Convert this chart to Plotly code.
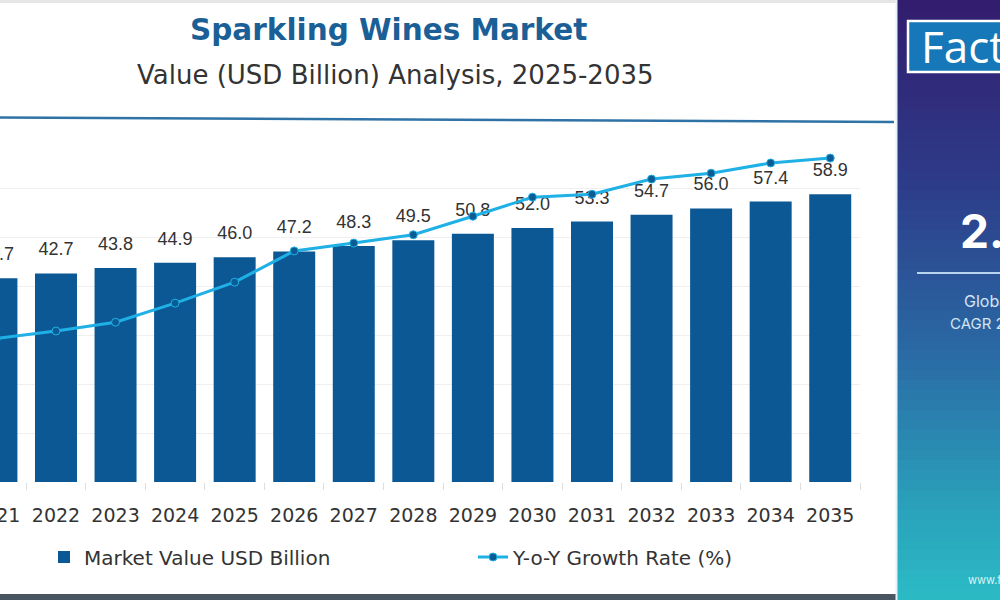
import plotly.graph_objects as go

# ---------------- data ----------------
years = [2021, 2022, 2023, 2024, 2025, 2026, 2027, 2028, 2029, 2030, 2031, 2032, 2033, 2034, 2035]
market_value = [41.7, 42.7, 43.8, 44.9, 46.0, 47.2, 48.3, 49.5, 50.8, 52.0, 53.3, 54.7, 56.0, 57.4, 58.9]
growth_rate = [2.94, 3.09, 3.27, 3.66, 4.09, 4.73, 4.89, 5.06, 5.44, 5.83, 5.89, 6.20, 6.32, 6.53, 6.63]
value_labels = [f"{v:.1f}" for v in market_value]
tick_labels = [str(y) for y in years]

title_text = "Sparkling Wines Market"
subtitle_text = "Value (USD Billion) Analysis, 2025-2035"
legend_bar = "Market Value USD Billion"
legend_line = "Y-o-Y Growth Rate (%)"

# ---------------- layout geometry ----------------
W, H = 1000, 600
ML, MR, MT, MB = 0, 140, 140, 118
PW = W - ML - MR
PH = H - MT - MB
X_RANGE = [2021.06, 2035.5]
Y_RANGE = [0, 70]
Y2_RANGE = [0, 7]


def px(xp):
    return (xp - ML) / PW


def py(yp):
    return (H - MB - yp) / PH


BAR_COLOR = "#0b5894"
LINE_COLOR = "#1fb0e6"
TEXT = "#333333"
UI_FONT = "'DejaVu Sans', Inter, sans-serif"
NUM_FONT = "'Liberation Sans', Arial, sans-serif"

fig = go.Figure()

fig.add_trace(go.Bar(
    x=years, y=market_value, width=0.705,
    marker=dict(color=BAR_COLOR, line=dict(width=0)),
    name=legend_bar, hoverinfo="skip",
))

# value labels above bars
fig.add_trace(go.Scatter(
    x=years, y=market_value, mode="markers+text",
    text=value_labels, textposition="top center",
    textfont=dict(family=NUM_FONT, size=18, color=TEXT),
    marker=dict(size=20, opacity=0),
    showlegend=False, hoverinfo="skip", cliponaxis=True,
))

fig.add_trace(go.Scatter(
    x=years, y=growth_rate, yaxis="y2", mode="lines+markers",
    line=dict(color=LINE_COLOR, width=3),
    marker=dict(color="#0b5c94", size=8, line=dict(color=LINE_COLOR, width=1)),
    name=legend_line, hoverinfo="skip", cliponaxis=True,
))

shapes = []
# top light strip and bottom dark strip
shapes.append(dict(type="rect", xref="paper", yref="paper", x0=px(0), x1=px(896), y0=py(0), y1=py(3),
                   fillcolor="#e6e6e6", line=dict(width=0), layer="above"))
shapes.append(dict(type="rect", xref="paper", yref="paper", x0=px(0), x1=px(896), y0=py(594), y1=py(600),
                   fillcolor="#4a5562", line=dict(width=0), layer="above"))
# separator line under title
shapes.append(dict(type="line", xref="paper", yref="paper", x0=px(0), x1=px(894), y0=py(117.5), y1=py(122),
                   line=dict(color="#2f72a6", width=2.5), layer="above"))

# right panel gradient (vertical strips)
stops = [(0.0, (0x33, 0x1c, 0x6e)), (0.3, (0x2d, 0x3b, 0x88)), (0.6, (0x2a, 0x6c, 0xa6)),
         (0.85, (0x2a, 0xa2, 0xbb)), (1.0, (0x2b, 0xbb, 0xc5))]


def grad(t):
    for (t0, c0), (t1, c1) in zip(stops[:-1], stops[1:]):
        if t0 <= t <= t1:
            f = (t - t0) / (t1 - t0)
            return "rgb(%d,%d,%d)" % tuple(round(a + (b - a) * f) for a, b in zip(c0, c1))
    return "rgb(%d,%d,%d)" % stops[-1][1]


N = 60
for i in range(N):
    y0 = H * i / N
    y1 = H * (i + 1) / N + 0.6
    shapes.append(dict(type="rect", xref="paper", yref="paper", x0=px(896), x1=px(1000),
                       y0=py(y0), y1=py(y1), fillcolor=grad((i + 0.5) / N),
                       line=dict(width=0), layer="above"))
shapes.append(dict(type="line", xref="paper", yref="paper", x0=px(896.5), x1=px(896.5), y0=py(0), y1=py(600),
                   line=dict(color="#e4f1f8", width=2), layer="above"))
# logo box
shapes.append(dict(type="rect", xref="paper", yref="paper", x0=px(908), x1=px(1004), y0=py(21), y1=py(72),
                   fillcolor="#1678b8", line=dict(color="#ffffff", width=2.5), layer="above"))
# white divider in panel
shapes.append(dict(type="line", xref="paper", yref="paper", x0=px(917), x1=px(1000), y0=py(273), y1=py(273),
                   line=dict(color="#b8d4ec", width=2), layer="above"))

annotations = [
    dict(text=f"<b>{title_text}</b>", xref="paper", yref="paper", x=px(388), y=py(30),
         xanchor="center", yanchor="middle", showarrow=False,
         font=dict(family=UI_FONT, size=29.5, color="#1b5f97")),
    dict(text=subtitle_text, xref="paper", yref="paper", x=px(395), y=py(75),
         xanchor="center", yanchor="middle", showarrow=False,
         font=dict(family=UI_FONT, size=26, color=TEXT)),
    # first category label (its tick sits just left of the cropped plot edge)
    dict(text=tick_labels[0], xref="paper", yref="paper",
         x=(years[0] - X_RANGE[0]) / (X_RANGE[1] - X_RANGE[0]), y=py(515),
         xanchor="center", yanchor="middle", showarrow=False,
         font=dict(family=UI_FONT, size=19, color=TEXT)),
    # panel texts
    dict(text="Fact.MR", xref="paper", yref="paper", x=px(919), y=py(46),
         xanchor="left", yanchor="middle", showarrow=False,
         font=dict(family="'Open Sans', sans-serif", size=44, color="#ffffff")),
    dict(text="<b>2.5%</b>", xref="paper", yref="paper", x=px(958), y=py(231),
         xanchor="left", yanchor="middle", showarrow=False,
         font=dict(family="Inter, sans-serif", size=46, color="#ffffff")),
    dict(text="Global Market", xref="paper", yref="paper", x=px(962), y=py(301),
         xanchor="left", yanchor="middle", showarrow=False,
         font=dict(family="Inter, sans-serif", size=16, color="#d4e4f4")),
    dict(text="CAGR 2025-2035", xref="paper", yref="paper", x=px(948), y=py(323),
         xanchor="left", yanchor="middle", showarrow=False,
         font=dict(family="Inter, sans-serif", size=15, color="#d4e4f4")),
    dict(text="www.factmr.com", xref="paper", yref="paper", x=px(966), y=py(580),
         xanchor="left", yanchor="middle", showarrow=False,
         font=dict(family="Inter, sans-serif", size=11, color="#d8f4f8")),
]

fig.update_layout(
    width=W, height=H,
    margin=dict(l=ML, r=MR, t=MT, b=MB, pad=0),
    paper_bgcolor="#ffffff", plot_bgcolor="#ffffff",
    showlegend=True,
    legend=dict(orientation="h", x=px(44), xanchor="left", y=py(557), yanchor="middle",
                font=dict(family=UI_FONT, size=20, color=TEXT),
                entrywidth=384, entrywidthmode="pixels", bgcolor="rgba(0,0,0,0)",
                itemclick=False, itemdoubleclick=False),
    xaxis=dict(type="linear", range=X_RANGE, tickvals=years, ticktext=tick_labels,
               ticks="", showgrid=False, zeroline=False, showline=False,
               tickfont=dict(family=UI_FONT, size=19, color=TEXT),
               ticklabelstandoff=20,
               minor=dict(ticks="outside", tick0=2021.5, dtick=1, ticklen=7,
                          tickcolor="#dddddd", tickwidth=1, showgrid=False)),
    yaxis=dict(range=Y_RANGE, dtick=10, showgrid=True, gridcolor="#efefef", gridwidth=1,
               zeroline=False, showticklabels=False, ticks="", showline=False),
    yaxis2=dict(range=Y2_RANGE, overlaying="y", side="right", visible=False, showgrid=False),
    shapes=shapes,
    annotations=annotations,
    bargap=0.3,
)

fig.write_html("out.html")
